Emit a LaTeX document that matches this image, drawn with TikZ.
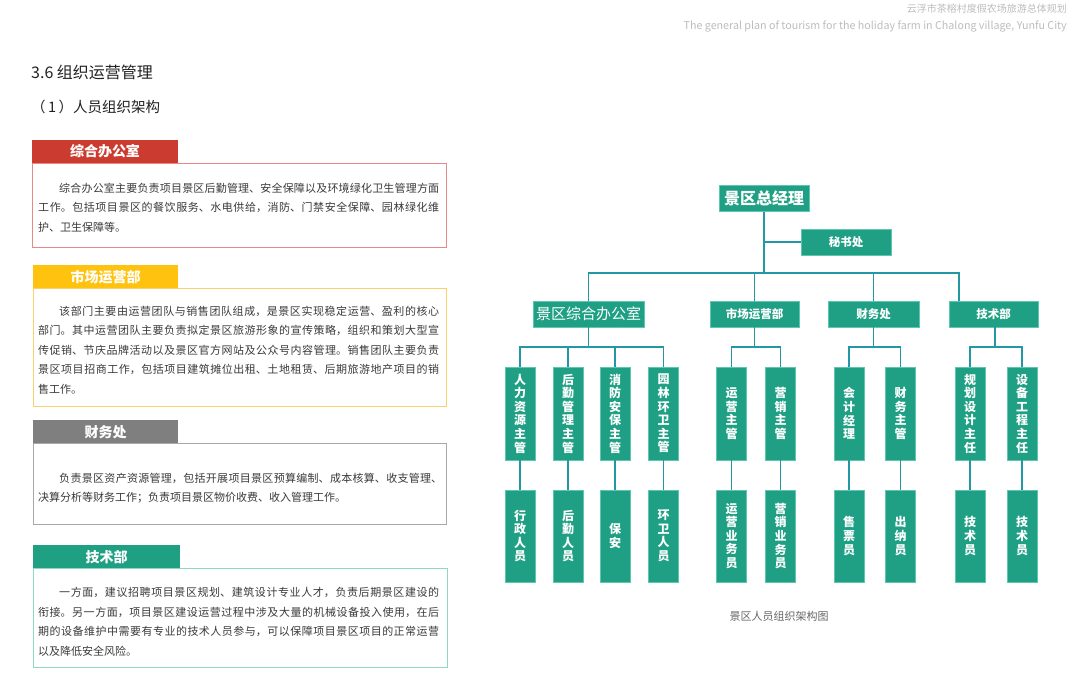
\documentclass[tikz,border=0pt]{standalone}
\usepackage{fontspec}
\setmainfont{Noto Sans CJK SC}
\XeTeXlinebreaklocale "zh"
\XeTeXlinebreakskip=0pt plus 1pt
\usetikzlibrary{calc}
\definecolor{hdrgrey}{HTML}{BDBDBD}
\definecolor{titlecol}{HTML}{222222}
\definecolor{bodycol}{HTML}{3A3A3A}
\definecolor{tabred}{HTML}{CC3B30}
\definecolor{boxred}{HTML}{E58A86}
\definecolor{tabyel}{HTML}{FFC20E}
\definecolor{boxyel}{HTML}{F6D36F}
\definecolor{tabgry}{HTML}{7F7F7F}
\definecolor{boxgry}{HTML}{A8A8A8}
\definecolor{tabteal}{HTML}{1FA083}
\definecolor{boxteal}{HTML}{8FD8C6}
\definecolor{orgfill}{HTML}{1FA084}
\definecolor{orgedge}{HTML}{5EC7B0}
\definecolor{conncol}{HTML}{2398A4}
\definecolor{capcol}{HTML}{666666}
\begin{document}
\begin{tikzpicture}[x=1pt,y=-1pt,
  tabbox/.style={inner sep=0pt, minimum height=23pt, text=white, font=\fontsize{14}{16}\selectfont\bfseries},
  panelbox/.style={inner sep=0pt, line width=0.9pt, fill=white},
  bodytext/.style={anchor=north west, inner sep=0pt, text width=401pt, align=justify, text=bodycol, font=\fontsize{11}{19.6}\selectfont},
  orgbox/.style={fill=orgfill, draw=orgedge, line width=0.6pt, inner sep=0pt, text=white},
  topbox/.style={orgbox, minimum height=26pt, font=\fontsize{11.5}{13}\selectfont\bfseries},
  vbox/.style={orgbox, minimum width=30pt, align=center, font=\fontsize{12}{13.6}\selectfont\bfseries},
  rowone/.style={vbox, minimum height=93pt},
  rowtwo/.style={vbox, minimum height=92pt},
  conn/.style={draw=conncol, line width=1.3pt}
]
\useasboundingbox (0,0) rectangle (1080,692);
\fill[white] (0,0) rectangle (1080,692);

% header
\node[anchor=east, inner sep=0pt, text=hdrgrey, font=\fontsize{10}{12}\selectfont] (hcn) at (1067,9) {云浮市茶榕村度假农场旅游总体规划};
\node[anchor=east, inner sep=0pt, text=hdrgrey, font=\fontsize{10.7}{13}\selectfont] (hen) at (1067,27) {The general plan of tourism for the holiday farm in Chalong village, Yunfu City};

% titles
\node[anchor=west, inner sep=0pt, text=titlecol, font=\fontsize{16}{18}\selectfont] (t1) at (31,72) {3.6 组织运营管理};
\node[anchor=west, inner sep=0pt, text=titlecol, font=\fontsize{14.5}{17}\selectfont] (t2) at (31,107) {（\,1\,）人员组织架构};

% panel 1
\node[panelbox, draw=boxred, minimum width=414pt, minimum height=84pt] (p1) at (239,205) {};
\node[tabbox, fill=tabred, minimum width=146pt] (tab1) at (105,151.5) {综合办公室};
\node[bodytext] (x1) at (38,182.5) {\hspace*{21pt}综合办公室主要负责项目景区后勤管理、安全保障以及环境绿化卫生管理方面\linebreak 工作。包括项目景区的餐饮服务、水电供给，消防、门禁安全保障、园林绿化维\linebreak 护、卫生保障等。};

% panel 2
\node[panelbox, draw=boxyel, minimum width=413pt, minimum height=118pt] (p2) at (239.5,347) {};
\node[tabbox, fill=tabyel, minimum width=145pt] (tab2) at (105.5,277) {市场运营部};
\node[bodytext] (x2) at (38,305.5) {\hspace*{21pt}该部门主要由运营团队与销售团队组成，是景区实现稳定运营、盈利的核心\linebreak 部门。其中运营团队主要负责拟定景区旅游形象的宣传策略，组织和策划大型宣\linebreak 传促销、节庆品牌活动以及景区官方网站及公众号内容管理。销售团队主要负责\linebreak 景区项目招商工作，包括项目建筑摊位出租、土地租赁、后期旅游地产项目的销\linebreak 售工作。};

% panel 3
\node[panelbox, draw=boxgry, minimum width=413pt, minimum height=81pt] (p3) at (239.5,483.5) {};
\node[tabbox, fill=tabgry, minimum width=145pt] (tab3) at (105.5,432) {财务处};
\node[bodytext, text width=404pt] (x3) at (38,472.5) {\hspace*{21pt}负责景区资产资源管理，包括开展项目景区预算编制、成本核算、收支管理、\linebreak 决算分析等财务工作；负责项目景区物价收费、收入管理工作。};

% panel 4
\node[panelbox, draw=boxteal, minimum width=414pt, minimum height=99pt] (p4) at (240,617.5) {};
\node[tabbox, fill=tabteal, minimum width=147pt] (tab4) at (106.5,557) {技术部};
\node[bodytext] (x4) at (38,587) {\hspace*{21pt}一方面，建议招聘项目景区规划、建筑设计专业人才，负责后期景区建设的\linebreak 衔接。另一方面，项目景区建设运营过程中涉及大量的机械设备投入使用，在后\linebreak 期的设备维护中需要有专业的技术人员参与，可以保障项目景区项目的正常运营\linebreak 以及降低安全风险。};

% org chart boxes
\node[orgbox, minimum width=90pt, minimum height=26pt, font=\fontsize{16}{18}\selectfont\bfseries] (gm) at (764,198.5) {景区总经理};
\node[topbox, minimum width=90pt] (sec) at (846,242) {秘书处};
\node[orgbox, minimum width=111pt, minimum height=26pt, font=\fontsize{15}{17}\selectfont] (d1) at (588.5,314) {景区综合办公室};
\node[topbox, minimum width=89pt] (d2) at (754.5,314) {市场运营部};
\node[topbox, minimum width=91pt] (d3) at (873.5,314) {财务处};
\node[topbox, minimum width=89pt] (d4) at (993.5,314) {技术部};

\node[rowone] (a1) at (520,413.5) {人\\力\\资\\源\\主\\管};
\node[rowone] (a2) at (568,413.5) {后\\勤\\管\\理\\主\\管};
\node[rowone] (a3) at (615,413.5) {消\\防\\安\\保\\主\\管};
\node[rowone] (a4) at (663.5,413.5) {园\\林\\环\\卫\\主\\管};
\node[rowone] (b1) at (731.5,413.5) {运\\营\\主\\管};
\node[rowone] (b2) at (780.5,413.5) {营\\销\\主\\管};
\node[rowone] (c1) at (849,413.5) {会\\计\\经\\理};
\node[rowone] (c2) at (900.5,413.5) {财\\务\\主\\管};
\node[rowone] (e1) at (970,413.5) {规\\划\\设\\计\\主\\任};
\node[rowone] (e2) at (1022,413.5) {设\\备\\工\\程\\主\\任};

\node[rowtwo] (a1s) at (520,536) {行\\政\\人\\员};
\node[rowtwo] (a2s) at (568,536) {后\\勤\\人\\员};
\node[rowtwo] (a3s) at (615,536) {保\\安};
\node[rowtwo] (a4s) at (663.5,536) {环\\卫\\人\\员};
\node[rowtwo] (b1s) at (731.5,536) {运\\营\\业\\务\\员};
\node[rowtwo] (b2s) at (780.5,536) {营\\销\\业\\务\\员};
\node[rowtwo] (c1s) at (849,536) {售\\票\\员};
\node[rowtwo] (c2s) at (900.5,536) {出\\纳\\员};
\node[rowtwo] (e1s) at (970,536) {技\\术\\员};
\node[rowtwo] (e2s) at (1022,536) {技\\术\\员};

\node[inner sep=0pt, text=capcol, font=\fontsize{11}{13}\selectfont] (cap) at (779,616) {景区人员组织架构图};

% connectors
\coordinate (jt) at (764,273);
\coordinate (d4t) at (959,301);
\draw[conn] (gm.south) -- (jt);
\draw[conn] (gm.south |- sec.west) -- (sec.west);
\draw[conn] (jt) -| (d1.north);
\draw[conn] (jt) -| (d2.north);
\draw[conn] (jt) -| (d3.north);
\draw[conn] (jt) -| (d4t);

\coordinate (j1) at (588.5,347);
\coordinate (j2) at (754.5,347);
\coordinate (j3) at (873.5,347);
\coordinate (j4) at (995,347);
\draw[conn] (d1.south) -- (j1);
\draw[conn] (d2.south) -- (j2);
\draw[conn] (d3.south) -- (j3);
\draw[conn] (d4.south -| j4) -- (j4);
\foreach \n in {a1,a2,a3,a4} \draw[conn] (j1) -| (\n.north);
\foreach \n in {b1,b2} \draw[conn] (j2) -| (\n.north);
\foreach \n in {c1,c2} \draw[conn] (j3) -| (\n.north);
\foreach \n in {e1,e2} \draw[conn] (j4) -| (\n.north);
\foreach \n in {a1,a2,a3,a4,b1,b2,c1,c2,e1,e2} \draw[conn] (\n.south) -- (\n s.north);
\end{tikzpicture}
\end{document}
